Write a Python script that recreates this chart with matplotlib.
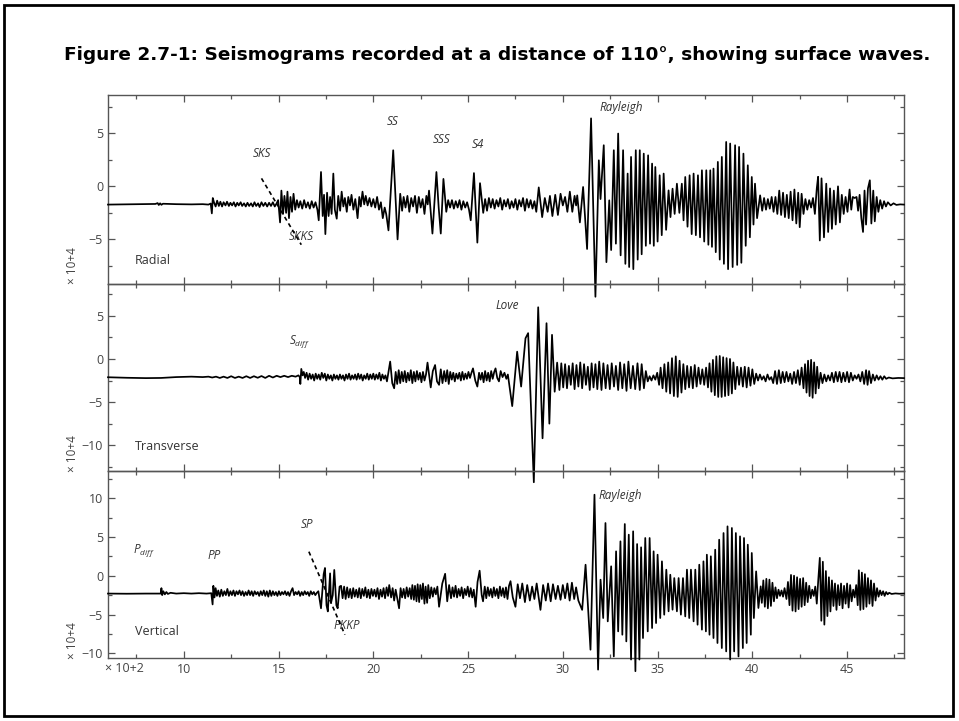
import numpy as np
import matplotlib
matplotlib.use("Agg")
import matplotlib.pyplot as plt
from matplotlib.patches import Rectangle
from matplotlib.ticker import MultipleLocator

plt.rcParams['font.family'] = ['Open Sans', 'DejaVu Sans']
plt.rcParams['mathtext.fontset'] = 'custom'
plt.rcParams['mathtext.it'] = 'Open Sans:italic'
plt.rcParams['mathtext.rm'] = 'Open Sans'

title = "Figure 2.7-1: Seismograms recorded at a distance of 110°, showing surface waves."

# time in units of 100 s, amplitude in units of 10^4
radial = [
    (6.0, -1.72), (6.8, -1.70), (7.6, -1.68), (8.5, -1.66), (8.62, -1.58), (8.68, -1.76), (8.75, -1.6),
    (8.82, -1.74), (8.9, -1.64), (9.6, -1.68), (10.4, -1.7), (11.0, -1.68), (11.3, -1.72), (11.42, -1.62),
    (11.48, -2.55), (11.53, -1.1), (11.6, -1.55), (11.68, -1.9), (11.76, -1.35), (11.85, -1.85), (11.93, -1.45),
    (12.02, -1.9), (12.1, -1.5), (12.2, -1.8), (12.28, -1.45), (12.38, -1.85), (12.46, -1.55), (12.55, -1.8),
    (12.64, -1.5), (12.73, -1.9), (12.82, -1.55), (12.9, -1.8), (13.0, -1.5), (13.08, -1.85), (13.18, -1.6),
    (13.27, -1.9), (13.36, -1.55), (13.45, -1.85), (13.55, -1.6), (13.64, -1.9), (13.73, -1.5), (13.82, -1.85),
    (13.92, -1.6), (14.0, -1.95), (14.1, -1.5), (14.2, -1.85), (14.3, -1.55), (14.4, -1.9), (14.5, -1.55),
    (14.6, -1.85), (14.7, -1.5), (14.8, -1.9), (14.9, -1.6), (14.98, -1.3),
    (15.08, -3.4), (15.15, -0.4), (15.24, -2.6), (15.31, -0.9), (15.4, -2.5), (15.47, -0.5), (15.55, -3.0),
    (15.63, -1.0), (15.71, -2.4), (15.79, -0.7), (15.88, -2.2), (15.97, -1.3), (16.06, -2.0), (16.15, -1.4),
    (16.25, -2.1), (16.35, -1.3), (16.45, -2.0), (16.55, -1.5), (16.65, -2.1), (16.75, -1.4), (16.85, -2.0),
    (16.95, -1.5), (17.05, -2.2), (17.12, -3.2), (17.24, 1.35), (17.33, -2.8), (17.4, -0.8), (17.47, -4.5),
    (17.56, -0.6), (17.64, -2.8), (17.72, -1.0), (17.8, -2.6), (17.89, 1.2), (17.97, -2.2), (18.07, -3.05),
    (18.15, -0.9), (18.25, -2.3), (18.33, -0.5), (18.42, -1.9), (18.5, -1.1), (18.6, -2.4), (18.68, -1.0),
    (18.77, -1.8), (18.85, -0.8), (18.95, -2.2), (19.05, -1.2), (19.17, -3.0), (19.26, -1.0), (19.34, -1.9),
    (19.43, -0.5), (19.52, -1.7), (19.6, -0.9), (19.7, -1.8), (19.8, -1.1), (19.9, -1.9), (20.0, -1.2),
    (20.1, -2.0), (20.2, -1.0), (20.3, -2.2), (20.4, -1.5), (20.5, -3.0), (20.6, -2.0), (20.68, -2.6),
    (20.8, -4.15), (21.05, 3.4), (21.28, -5.0), (21.42, -0.7), (21.52, -2.3), (21.6, -1.0), (21.7, -2.0),
    (21.8, -0.9), (21.9, -2.4), (22.0, -1.1), (22.1, -1.9), (22.2, -0.9), (22.3, -2.5), (22.4, -1.0),
    (22.5, -2.0), (22.6, -1.2), (22.7, -2.6), (22.8, -0.9), (22.87, -1.7), (22.94, -0.4),
    (23.12, -4.45), (23.33, 1.35), (23.45, -2.0), (23.56, -4.45), (23.7, 0.7), (23.85, -2.4), (23.95, -1.3),
    (24.05, -2.0), (24.15, -1.3), (24.25, -2.1), (24.35, -1.4), (24.45, -2.0), (24.55, -1.3), (24.65, -2.2),
    (24.75, -1.4), (24.85, -2.0), (24.95, -1.5), (25.05, -2.2),
    (25.14, -3.2), (25.31, 1.25), (25.49, -5.3), (25.63, 0.3), (25.8, -2.5), (25.9, -1.2), (26.0, -2.3),
    (26.1, -1.1), (26.2, -2.0), (26.3, -1.2), (26.4, -2.1), (26.5, -1.3), (26.6, -1.9), (26.7, -1.1),
    (26.8, -2.2), (26.9, -1.3), (27.0, -1.9), (27.1, -1.2), (27.2, -2.1), (27.3, -1.4), (27.4, -2.0),
    (27.5, -1.2), (27.6, -2.2), (27.7, -1.3), (27.8, -1.9), (27.9, -1.1), (28.0, -2.3), (28.1, -1.2),
    (28.2, -2.0), (28.3, -1.3), (28.4, -2.1), (28.5, -1.4), (28.6, -2.4), (28.73, -0.1), (28.91, -2.9),
    (29.05, -1.1), (29.2, -2.4), (29.32, -0.9), (29.45, -2.8), (29.6, -0.8), (29.74, -2.7), (29.88, -0.7),
    (30.0, -1.8), (30.12, -1.0), (30.24, -2.4), (30.37, -0.5), (30.5, -2.4), (30.62, -0.9), (30.7, -1.8),
    (30.76, -0.85), (30.9, -3.4), (31.07, -0.06),
    (31.28, -5.9), (31.49, 6.4), (31.72, -10.4), (31.9, 2.45), (31.99, -1.2), (32.16, 3.87), (32.3, -7.14),
    (32.45, -1.32), (32.55, -6.0), (32.69, 3.4), (32.8, -5.4), (32.92, 4.97), (33.05, -6.5), (33.18, 3.4),
    (33.3, -7.3), (33.42, 1.2), (33.5, -7.6), (33.6, 2.77), (33.72, -7.8), (33.85, 3.4), (33.95, -6.9),
    (34.06, 3.4), (34.16, -6.4), (34.27, 3.08), (34.38, -5.6), (34.5, 2.92), (34.6, -5.4), (34.71, 2.14),
    (34.8, -5.6), (34.88, 1.82), (35.0, -5.2), (35.11, 1.04), (35.22, -4.6), (35.32, 1.2), (35.45, -4.1),
    (35.58, -0.38), (35.68, -2.9), (35.79, -0.22), (35.9, -2.6), (36.02, 0.25), (36.15, -2.5), (36.28, 0.25),
    (36.37, -3.2), (36.46, 0.88), (36.58, -3.8), (36.69, 1.04), (36.8, -4.5), (36.9, 1.2), (37.02, -4.6),
    (37.13, 1.04), (37.24, -4.8), (37.34, 1.51), (37.46, -5.2), (37.57, 1.51), (37.68, -5.5), (37.78, 1.51),
    (37.87, -5.7), (37.95, 1.67), (38.07, -6.2), (38.18, 2.3), (38.28, -6.9), (38.39, 2.77), (38.5, -7.3),
    (38.62, 4.18), (38.72, -7.8), (38.83, 4.03), (38.96, -7.6), (39.09, 3.87), (39.2, -7.4), (39.3, 3.71),
    (39.42, -7.2), (39.53, 3.08), (39.65, -5.6), (39.76, 1.98), (39.87, -4.8), (39.97, 0.88), (40.06, -3.6),
    (40.14, 0.25), (40.25, -3.0), (40.41, -0.85),
    (40.52, -2.3), (40.62, -1.1), (40.72, -2.2), (40.82, -1.2), (40.92, -2.1), (41.02, -1.0), (41.12, -2.4),
    (41.22, -1.0), (41.32, -2.6), (41.42, -0.4), (41.52, -2.7), (41.62, -0.6), (41.72, -2.9), (41.82, -0.8),
    (41.92, -3.0), (42.02, -0.5), (42.12, -3.2), (42.22, -0.3), (42.32, -3.5), (42.42, -0.6), (42.5, -3.85),
    (42.6, -0.7), (42.7, -2.6), (42.8, -1.2), (42.9, -2.2), (43.0, -1.3), (43.1, -2.0), (43.2, -1.1),
    (43.3, -2.6), (43.4, -0.2), (43.47, 0.9), (43.56, -5.1), (43.65, 0.75), (43.78, -4.8), (43.9, 0.25),
    (44.0, -4.3), (44.1, -0.2), (44.2, -4.0), (44.3, -0.4), (44.4, -3.6), (44.52, 0.0), (44.62, -3.4),
    (44.72, -0.8), (44.82, -2.6), (44.92, -1.0), (45.02, -2.4), (45.13, -0.3), (45.22, -2.2), (45.3, -1.0),
    (45.4, -1.1), (45.5, -1.0), (45.58, -2.3), (45.66, -0.8), (45.75, -3.0), (45.84, -4.3), (45.92, -0.4),
    (46.0, -3.6), (46.1, -0.2), (46.2, 0.57), (46.28, -3.5), (46.38, -0.4), (46.46, -3.3), (46.56, -1.0),
    (46.65, -2.4), (46.75, -1.3), (46.85, -2.1), (46.95, -1.4), (47.05, -1.9), (47.15, -1.5), (47.3, -1.8),
    (47.45, -1.6), (47.6, -1.75), (47.8, -1.7), (48.0, -1.72),
]

transverse = [
    (6.0, -2.12), (7.0, -2.18), (8.0, -2.22), (8.8, -2.2), (9.6, -2.1), (10.4, -2.05), (11.0, -2.1),
    (11.3, -2.05), (11.5, -2.15), (11.7, -2.05), (11.9, -2.2), (12.1, -2.05), (12.3, -2.2), (12.5, -2.0),
    (12.7, -2.2), (12.9, -2.05), (13.1, -2.2), (13.3, -2.0), (13.5, -2.2), (13.7, -2.0), (13.9, -2.18),
    (14.1, -1.98), (14.3, -2.2), (14.5, -1.95), (14.7, -2.15), (14.9, -1.95), (15.1, -2.1), (15.3, -1.95),
    (15.5, -2.1), (15.7, -1.95), (15.9, -2.05), (16.05, -1.9), (16.12, -2.1),
    (16.15, -2.9), (16.2, -1.15), (16.27, -1.9), (16.33, -1.5), (16.4, -2.2), (16.48, -1.6), (16.56, -2.4),
    (16.64, -1.7), (16.72, -2.3), (16.8, -1.8), (16.88, -2.5), (16.96, -1.7), (17.04, -2.3), (17.12, -1.8),
    (17.2, -2.4), (17.28, -1.6), (17.36, -2.2), (17.44, -1.7), (17.52, -2.5), (17.6, -1.8), (17.68, -2.3),
    (17.76, -1.9), (17.84, -2.5), (17.92, -1.8), (18.0, -2.3), (18.08, -1.9), (18.16, -2.4), (18.24, -1.8),
    (18.32, -2.3), (18.4, -1.9), (18.48, -2.5), (18.56, -1.8), (18.64, -2.3), (18.72, -1.7), (18.8, -2.4),
    (18.88, -1.9), (18.96, -2.3), (19.04, -1.8), (19.12, -2.4), (19.2, -1.7), (19.28, -2.3), (19.36, -1.8),
    (19.44, -2.5), (19.52, -1.9), (19.6, -2.3), (19.68, -1.7), (19.76, -2.4), (19.84, -1.8), (19.92, -2.3),
    (20.0, -1.7), (20.08, -2.4), (20.16, -1.8), (20.24, -2.3), (20.32, -1.6), (20.4, -2.5), (20.48, -1.8),
    (20.56, -2.3), (20.64, -1.9), (20.72, -2.6),
    (20.89, -0.3), (21.0, -2.8), (21.1, -3.4), (21.18, -1.5), (21.26, -2.9), (21.34, -1.3), (21.42, -2.8),
    (21.5, -1.5), (21.58, -2.6), (21.66, -1.4), (21.74, -2.7), (21.82, -1.6), (21.9, -2.5), (21.98, -1.3),
    (22.06, -2.8), (22.14, -1.5), (22.22, -2.6), (22.3, -1.4), (22.38, -2.4), (22.46, -1.6), (22.54, -2.7),
    (22.62, -1.5), (22.7, -2.5), (22.78, -1.8),
    (22.86, -0.42), (23.03, -3.3), (23.14, -1.4), (23.26, -0.7), (23.36, -2.6), (23.47, -3.0), (23.56, -1.2),
    (23.65, -2.8), (23.74, -1.4), (23.82, -2.6), (23.9, -1.3), (23.98, -2.9), (24.06, -1.5), (24.14, -2.4),
    (24.22, -1.6), (24.3, -2.6), (24.38, -1.7), (24.46, -2.3), (24.54, -1.6), (24.62, -2.5), (24.7, -1.5),
    (24.78, -2.4), (24.86, -1.7), (24.94, -2.3), (25.02, -1.5), (25.1, -2.2), (25.18, -1.6), (25.26, -1.09),
    (25.38, -2.5), (25.49, -3.2), (25.58, -1.6), (25.66, -2.4), (25.74, -1.6), (25.82, -2.7), (25.9, -1.4),
    (25.98, -2.5), (26.06, -1.6), (26.14, -2.6), (26.22, -1.4), (26.3, -2.3), (26.38, -1.5), (26.45, -1.09),
    (26.54, -2.2), (26.63, -2.6), (26.72, -1.4), (26.82, -2.1), (26.92, -1.6), (27.02, -2.3), (27.1, -1.8),
    (27.33, -5.47), (27.59, 0.85), (27.8, -3.2), (28.03, 2.4), (28.17, 3.0), (28.47, -14.3), (28.7, 6.0),
    (28.93, -9.2), (29.14, 4.15), (29.29, -7.5), (29.43, 2.8), (29.57, -3.8), (29.7, -0.42), (29.82, -3.6),
    (29.92, -0.5), (30.02, -3.3), (30.12, -0.6), (30.22, -3.4), (30.32, -0.8), (30.42, -3.0), (30.52, -0.5),
    (30.62, -3.5), (30.72, -0.7), (30.82, -3.2), (30.92, -0.4), (31.02, -3.4), (31.12, -0.6), (31.22, -3.0),
    (31.32, -0.9), (31.42, -3.6), (31.52, -0.5), (31.62, -3.3), (31.72, -0.6), (31.82, -3.5), (31.92, -0.3),
    (32.04, -3.6), (32.14, -0.5), (32.26, -3.4), (32.36, -0.7), (32.48, -3.5), (32.58, -0.5), (32.7, -3.2),
    (32.8, -0.8), (32.92, -3.6), (33.02, -0.4), (33.14, -3.4), (33.24, -0.6), (33.36, -3.7), (33.46, -0.3),
    (33.58, -3.4), (33.7, -0.8), (33.82, -3.5), (33.94, -0.5), (34.06, -3.6), (34.16, -0.6), (34.28, -3.4),
    (34.38, -1.4), (34.48, -2.6), (34.58, -2.0), (34.68, -2.5), (34.78, -1.9), (34.88, -2.4), (34.98, -1.6),
    (35.08, -3.0), (35.16, -1.0), (35.26, -3.4), (35.36, -0.6), (35.46, -3.8), (35.56, -0.4), (35.66, -4.0),
    (35.76, 0.1), (35.86, -4.3), (35.96, 0.3), (36.06, -4.4), (36.16, -0.2), (36.26, -3.9), (36.36, -0.6),
    (36.46, -3.5), (36.56, -0.8), (36.66, -3.3), (36.76, -0.9), (36.86, -3.4), (36.96, -0.7), (37.06, -3.2),
    (37.16, -1.0), (37.26, -2.9), (37.36, -1.2), (37.46, -3.0), (37.56, -1.0), (37.66, -3.3), (37.74, -0.5),
    (37.84, -3.8), (37.92, -0.1), (38.02, -4.2), (38.1, 0.3), (38.2, -4.4), (38.28, 0.35), (38.38, -4.4),
    (38.46, 0.2), (38.56, -4.3), (38.64, 0.1), (38.74, -4.2), (38.82, 0.0), (38.92, -4.0), (39.0, -0.4),
    (39.1, -3.5), (39.2, -0.9), (39.3, -3.0), (39.4, -1.0), (39.5, -3.2), (39.6, -0.9), (39.7, -3.3),
    (39.8, -1.0), (39.9, -3.1), (40.0, -1.2), (40.1, -2.9), (40.2, -1.7), (40.3, -2.5), (40.4, -1.8),
    (40.5, -2.4), (40.6, -2.0), (40.7, -2.6), (40.8, -1.8), (40.9, -2.4), (41.0, -2.1), (41.1, -2.8),
    (41.2, -1.4), (41.3, -2.9), (41.4, -1.3), (41.5, -2.8), (41.6, -1.5), (41.7, -2.7), (41.8, -1.5),
    (41.9, -2.6), (42.0, -1.7), (42.1, -2.9), (42.2, -1.5), (42.3, -2.8), (42.4, -1.3), (42.5, -3.0),
    (42.6, -1.0), (42.7, -3.4), (42.78, -0.6), (42.86, -3.9), (42.94, -0.2), (43.02, -4.3), (43.1, -0.1),
    (43.18, -4.5), (43.26, -0.4), (43.34, -4.0), (43.42, -0.9), (43.5, -3.4), (43.6, -1.6), (43.7, -2.8),
    (43.8, -1.8), (43.9, -2.6), (44.0, -1.9), (44.1, -2.5), (44.2, -1.6), (44.3, -2.7), (44.4, -1.5),
    (44.5, -2.6), (44.6, -1.5), (44.7, -2.7), (44.8, -1.6), (44.9, -2.6), (45.0, -1.5), (45.1, -2.7),
    (45.2, -1.6), (45.3, -2.5), (45.4, -1.9), (45.5, -2.3), (45.6, -1.8), (45.7, -2.6), (45.8, -1.5),
    (45.9, -2.9), (46.0, -1.3), (46.08, -3.0), (46.16, -1.4), (46.26, -2.8), (46.36, -1.8), (46.46, -2.5),
    (46.56, -1.9), (46.66, -2.4), (46.76, -2.0), (46.86, -2.4), (46.96, -2.0), (47.06, -2.3), (47.2, -2.15),
    (47.4, -2.25), (47.7, -2.2), (48.0, -2.22),
]

vertical = [
    (6.0, -2.3), (7.0, -2.32), (8.0, -2.3), (8.78, -2.3), (8.82, -1.6), (8.86, -2.5), (8.92, -2.0),
    (9.0, -2.4), (9.08, -2.1), (9.16, -2.35), (9.3, -2.2), (9.6, -2.3), (10.0, -2.25), (10.4, -2.3),
    (10.8, -2.25), (11.2, -2.3), (11.45, -2.25),
    (11.52, -3.7), (11.56, -1.3), (11.62, -2.8), (11.68, -1.6), (11.75, -2.6), (11.82, -1.9), (11.9, -2.7),
    (11.98, -1.8), (12.06, -2.6), (12.14, -2.0), (12.22, -2.5), (12.3, -1.7), (12.38, -2.6), (12.46, -2.0),
    (12.54, -2.5), (12.62, -1.9), (12.7, -2.6), (12.78, -2.0), (12.86, -2.4), (12.94, -1.9), (13.02, -2.5),
    (13.1, -2.0), (13.18, -2.6), (13.26, -2.1), (13.34, -2.5), (13.42, -1.9), (13.5, -2.5), (13.58, -2.0),
    (13.66, -2.6), (13.74, -2.0), (13.82, -2.4), (13.9, -2.1), (13.98, -2.6), (14.06, -2.0), (14.14, -2.5),
    (14.22, -1.9), (14.3, -2.6), (14.38, -2.0), (14.46, -2.7), (14.54, -1.9), (14.62, -2.6), (14.7, -2.0),
    (14.78, -2.5), (14.86, -2.1), (14.94, -2.6), (15.02, -2.0), (15.1, -2.5), (15.18, -2.1), (15.26, -2.4),
    (15.34, -2.0), (15.42, -2.5), (15.5, -2.1), (15.58, -2.6), (15.66, -2.0), (15.74, -1.6), (15.82, -2.5),
    (15.9, -2.1), (15.98, -2.4), (16.06, -2.0), (16.14, -2.6), (16.22, -2.1), (16.3, -2.5), (16.38, -2.0),
    (16.46, -2.4), (16.54, -2.1), (16.62, -2.6), (16.7, -2.0), (16.78, -2.4), (16.86, -2.1), (16.94, -2.5),
    (17.02, -2.2), (17.1, -2.0),
    (17.24, -4.2), (17.38, 0.2), (17.45, 1.0), (17.53, -3.8), (17.6, -4.6), (17.72, 0.3), (17.77, -3.5),
    (17.86, -2.5), (17.94, 0.75), (18.05, -3.8), (18.12, -4.2), (18.22, -1.4), (18.3, -1.3), (18.38, -2.9),
    (18.46, -1.4), (18.54, -3.0), (18.62, -1.5), (18.7, -2.8), (18.78, -1.7), (18.86, -2.9), (18.94, -1.6),
    (19.02, -2.7), (19.1, -1.8), (19.18, -2.8), (19.26, -1.6), (19.34, -2.9), (19.42, -1.7), (19.5, -2.6),
    (19.58, -1.5), (19.66, -2.8), (19.74, -1.8), (19.82, -2.9), (19.9, -1.7), (19.98, -2.6), (20.06, -1.8),
    (20.14, -2.7), (20.22, -1.6), (20.3, -3.0), (20.38, -1.8), (20.46, -2.7), (20.54, -1.6), (20.62, -2.9),
    (20.7, -1.5), (20.78, -2.6), (20.84, -1.2), (20.94, -2.8), (21.02, -1.6), (21.1, -3.2), (21.18, -1.8),
    (21.26, -2.9), (21.36, -4.2), (21.44, -1.6), (21.52, -2.8), (21.6, -1.7), (21.68, -2.9), (21.76, -1.5),
    (21.84, -2.7), (21.92, -1.6), (22.0, -3.0), (22.06, -1.2), (22.14, -3.1), (22.2, -1.3), (22.28, -3.3),
    (22.34, -1.1), (22.42, -3.4), (22.48, -1.2), (22.56, -3.0), (22.62, -1.0), (22.7, -3.6), (22.76, -1.4),
    (22.84, -3.5), (22.9, -1.2), (22.98, -2.9), (23.06, -1.5), (23.14, -2.7), (23.22, -1.6), (23.3, -2.4),
    (23.38, -1.4), (23.47, -4.0), (23.64, -1.0), (23.79, 0.25), (23.9, -3.3), (24.0, -1.2), (24.1, -2.9),
    (24.18, -1.5), (24.26, -2.7), (24.34, -1.3), (24.42, -2.8), (24.5, -1.7), (24.58, -2.6), (24.66, -1.5),
    (24.74, -2.9), (24.82, -1.7), (24.9, -2.5), (24.98, -1.4), (25.06, -2.7), (25.14, -1.6), (25.22, -2.8),
    (25.3, -1.8), (25.4, -4.0), (25.5, -0.8), (25.61, 0.65), (25.72, -2.5), (25.79, -3.3), (25.88, -1.4),
    (25.96, -2.9), (26.04, -1.5), (26.12, -2.6), (26.2, -1.7), (26.28, -2.8), (26.36, -1.5), (26.44, -2.6),
    (26.52, -1.7), (26.6, -2.9), (26.68, -1.4), (26.76, -2.6), (26.84, -1.6), (26.92, -2.8), (27.0, -1.5),
    (27.08, -3.0), (27.16, -1.3), (27.24, -0.7), (27.36, -2.8), (27.5, -4.0), (27.62, -1.1), (27.74, -2.9),
    (27.86, -1.0), (28.0, -3.4), (28.12, -1.2), (28.26, -3.2), (28.38, -1.4), (28.5, -3.0), (28.62, -1.0),
    (28.82, -4.4), (28.96, -1.2), (29.1, -3.2), (29.22, -1.0), (29.36, -3.3), (29.48, -1.1), (29.62, -3.0),
    (29.74, -1.3), (29.88, -3.1), (30.0, -1.2), (30.12, -2.9), (30.24, -1.0), (30.36, -3.2), (30.48, -0.9),
    (30.6, -3.0), (30.7, -1.5), (30.82, -3.2), (31.02, -4.4),
    (31.2, 1.42), (31.46, -9.53), (31.67, 10.44), (31.86, -12.1), (31.99, -0.51), (32.13, -5.45), (32.25, 6.79),
    (32.37, -5.88), (32.55, 1.21), (32.69, -10.4), (32.81, 3.14), (32.92, -7.17), (33.04, 4.43), (33.14, -7.6),
    (33.27, 6.66), (33.35, -8.46), (33.48, 5.29), (33.6, -10.8), (33.71, 5.72), (33.83, -12.3), (33.92, 4.08),
    (34.04, -10.8), (34.13, 3.66), (34.23, -8.03), (34.35, 4.86), (34.48, -7.17), (34.58, 4.86), (34.71, -6.74),
    (34.79, 3.14), (34.92, -6.1), (35.0, 2.71), (35.14, -5.45), (35.23, 1.85), (35.35, -5.02), (35.46, 0.78),
    (35.58, -4.59), (35.67, 0.13), (35.79, -4.38), (35.88, -0.3), (36.02, -4.59), (36.11, -0.3), (36.23, -5.02),
    (36.34, -0.3), (36.46, -5.24), (36.55, 0.78), (36.67, -5.45), (36.76, 0.78), (36.9, -5.88), (36.99, 0.78),
    (37.11, -6.31), (37.2, 1.42), (37.34, -6.95), (37.42, 1.85), (37.55, -7.17), (37.6, 2.71), (37.74, -7.6),
    (37.81, 2.5), (37.95, -8.03), (38.04, 3.35), (38.16, -8.67), (38.25, 4.64), (38.39, -9.32), (38.48, 5.5),
    (38.62, -9.75), (38.69, 6.36), (38.83, -10.8), (38.92, 6.15), (39.04, -9.75), (39.13, 5.5), (39.27, -10.4),
    (39.35, 5.07), (39.5, -9.32), (39.56, 4.86), (39.7, -8.67), (39.76, 4.0), (39.92, -7.6), (39.97, 2.93),
    (40.08, -5.45), (40.2, 0.56), (40.32, -4.16), (40.44, -1.37),
    (40.5, -3.5), (40.58, -0.6), (40.66, -4.0), (40.74, -0.4), (40.82, -4.2), (40.9, -0.5), (40.98, -3.9),
    (41.06, -0.9), (41.14, -3.3), (41.22, -1.5), (41.3, -2.9), (41.38, -1.8), (41.46, -2.6), (41.54, -1.9),
    (41.62, -2.7), (41.7, -1.6), (41.8, -3.0), (41.88, -0.8), (41.96, -3.8), (42.04, 0.1), (42.12, -4.5),
    (42.2, 0.0), (42.28, -4.6), (42.36, -0.2), (42.44, -4.3), (42.52, -0.4), (42.6, -4.0), (42.68, -0.3),
    (42.76, -3.8), (42.84, -0.9), (42.92, -3.4), (43.0, -1.3), (43.08, -2.9), (43.16, -1.8), (43.24, -2.6),
    (43.32, -1.4), (43.4, -3.6), (43.48, -0.5), (43.56, 2.3), (43.64, -5.8), (43.72, 1.8), (43.8, -6.3),
    (43.88, 0.6), (43.96, -5.2), (44.04, -0.2), (44.12, -4.6), (44.2, -0.6), (44.28, -3.9), (44.36, -1.0),
    (44.44, -4.4), (44.52, -1.2), (44.6, -3.8), (44.68, -1.0), (44.76, -4.2), (44.84, -1.3), (44.92, -3.6),
    (45.0, -1.0), (45.08, -4.1), (45.16, -1.2), (45.24, -3.3), (45.32, -1.8), (45.4, -2.8), (45.48, -1.2),
    (45.56, -3.8), (45.62, 0.7), (45.7, -4.4), (45.78, 0.4), (45.86, -4.3), (45.94, 0.2), (46.02, -4.0),
    (46.1, -0.3), (46.18, -3.6), (46.26, -0.6), (46.34, -3.9), (46.42, -1.0), (46.5, -3.2), (46.58, -1.6),
    (46.66, -2.7), (46.74, -1.9), (46.82, -2.5), (46.9, -2.0), (46.98, -2.6), (47.06, -2.1), (47.14, -2.4),
    (47.22, -2.2), (47.35, -2.35), (47.55, -2.28), (47.75, -2.32), (48.0, -2.3),
]

components = ["Radial", "Transverse", "Vertical"]
traces = [radial, transverse, vertical]
y_limits = [(-9.2, 8.6), (-13.0, 8.7), (-10.6, 13.5)]
comp_label_pos = [(7.4, -7.0), (7.4, -10.2), (7.4, -7.2)]

# phase picks: (label, time, amplitude) per panel
phases = [
    [("SKS", 14.1, 3.1), ("SKKS", 16.2, -4.7), ("SS", 21.0, 6.1), ("SSS", 23.6, 4.4),
     ("S4", 25.5, 3.9), ("Rayleigh", 33.1, 7.45)],
    [(r"$\mathit{S}_{\mathit{diff}}$", 16.1, 2.0), ("Love", 27.05, 6.2)],
    [(r"$\mathit{P}_{\mathit{diff}}$", 7.9, 3.2), ("PP", 11.6, 2.6), ("SP", 16.5, 6.6),
     ("PKKP", 18.6, -6.4), ("Rayleigh", 33.05, 10.4)],
]
# dashed travel-time guides: (t0, a0, t1, a1) per panel
guides = [[(14.1, 0.75, 16.2, -5.5)], [], [(16.6, 3.1, 18.5, -7.6)]]

fig = plt.figure(figsize=(9.59, 7.21), dpi=100)
boxes = [(0.1126, 0.6061, 0.8300, 0.2621),
         (0.1126, 0.3467, 0.8300, 0.2594),
         (0.1126, 0.0874, 0.8300, 0.2594)]

grey = "#444444"
for i, box in enumerate(boxes):
    ax = fig.add_axes(box)
    ax.patch.set_visible(False)
    t, a = np.array(traces[i]).T
    ax.plot(t, a, color="black", lw=1.25, clip_on=False, zorder=3)
    for (t0, a0, t1, a1) in guides[i]:
        ax.plot([t0, t1], [a0, a1], color="black", lw=1.2, ls=(0, (2.5, 2.0)), zorder=4)
    for (txt, tx, ty) in phases[i]:
        ax.text(tx, ty, txt, ha="center", va="center", fontsize=8.5, style="italic", color="#333333")
    lx, ly = comp_label_pos[i]
    ax.text(lx, ly, components[i], ha="left", va="center", fontsize=9, color="#333333")
    ax.text(-0.045, 0.095, "× 10+4", rotation=90, ha="center", va="center",
            fontsize=8.5, color=grey, transform=ax.transAxes)

    ax.set_xlim(6, 48)
    ax.set_ylim(*y_limits[i])
    ax.xaxis.set_major_locator(MultipleLocator(5))
    ax.xaxis.set_minor_locator(MultipleLocator(2.5))
    ax.yaxis.set_major_locator(MultipleLocator(5))
    ax.yaxis.set_minor_locator(MultipleLocator(2.5))
    ax.tick_params(which="both", direction="in", top=True, right=True, color="#555555",
                   labelsize=9, labelcolor=grey, width=0.9)
    ax.tick_params(which="major", length=5)
    ax.tick_params(which="minor", length=3)
    for sp in ax.spines.values():
        sp.set_color("#555555")
        sp.set_linewidth(1.0)
    if i < 2:
        ax.tick_params(labelbottom=False)
    else:
        ax.text(0.021, -0.055, "× 10+2", ha="center", va="center", fontsize=9,
                color=grey, transform=ax.transAxes)

fig.text(0.518, 0.924, title, ha="center", va="center", fontsize=13.3,
         fontweight="bold", family="DejaVu Sans")
fig.add_artist(Rectangle((4 / 959, 5 / 721), 949 / 959, 711 / 721, transform=fig.transFigure,
                         fill=False, edgecolor="black", linewidth=2))

fig.savefig("out.png", dpi=100)
